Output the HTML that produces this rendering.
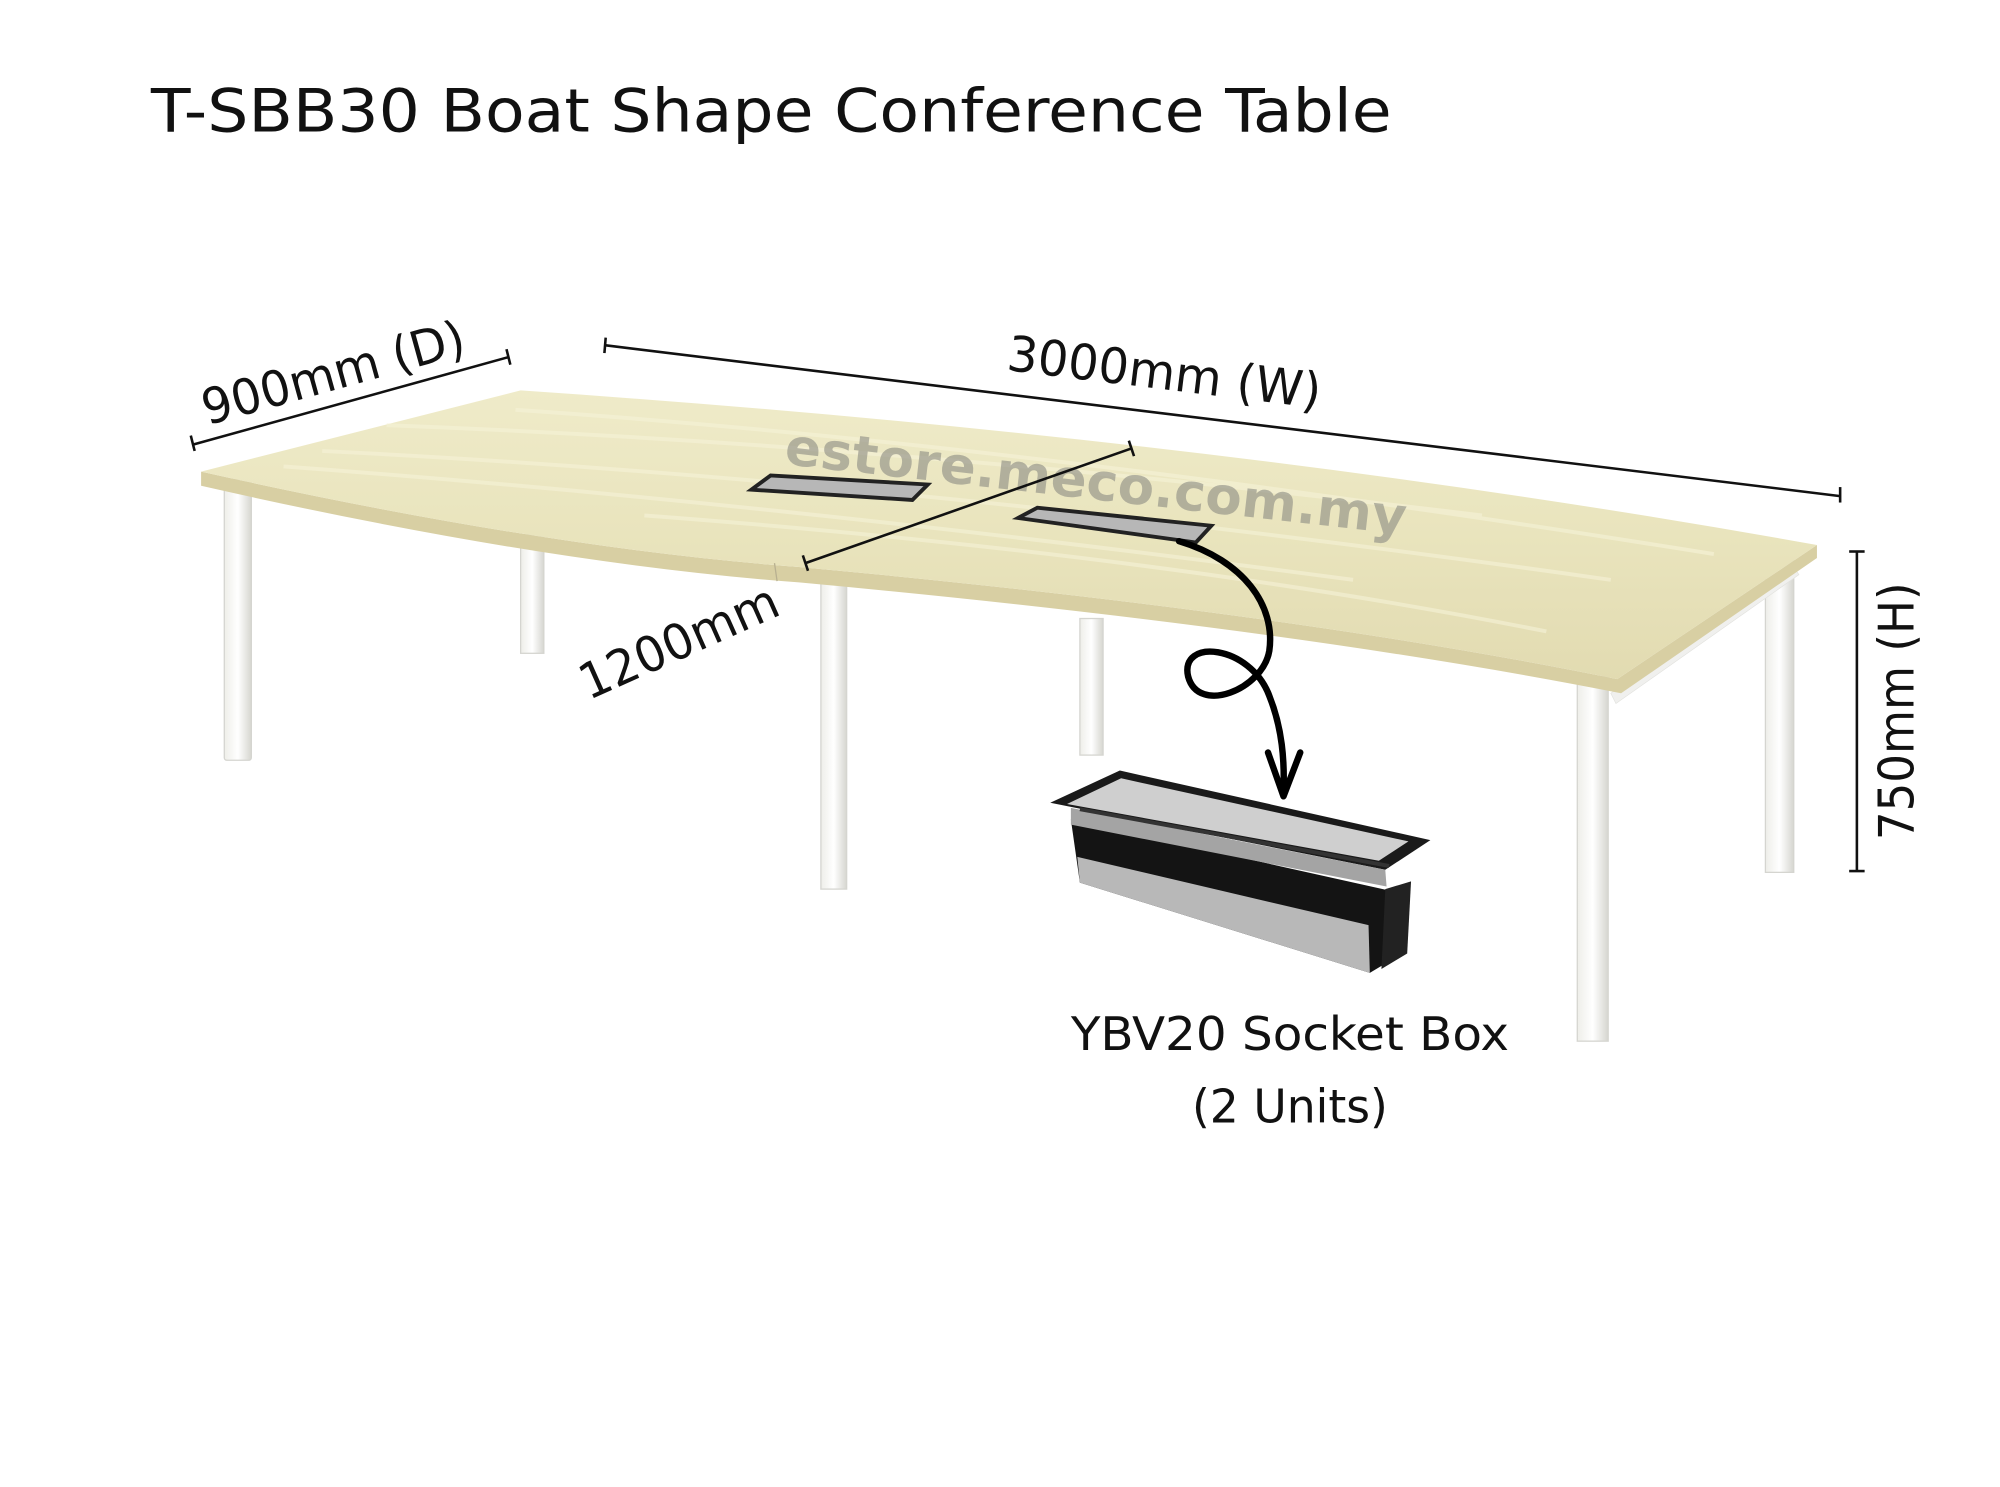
<!DOCTYPE html>
<html><head><meta charset="utf-8"><style>
html,body{margin:0;padding:0;background:#fff;width:2000px;height:1487px;overflow:hidden}
svg{display:block}
text{font-family:"DejaVu Sans Condensed","DejaVu Sans","Liberation Sans",sans-serif}
</style></head><body>
<svg width="2000" height="1487" viewBox="0 0 1552 1154" xmlns="http://www.w3.org/2000/svg">
<defs>
<linearGradient id="wood" x1="0" y1="0" x2="0" y2="1">
<stop offset="0" stop-color="#efebc9"/><stop offset="0.5" stop-color="#e9e4bd"/><stop offset="1" stop-color="#e2dbb1"/>
</linearGradient>
<linearGradient id="leg" x1="0" y1="0" x2="1" y2="0">
<stop offset="0" stop-color="#eeeee9"/><stop offset="0.5" stop-color="#ffffff"/><stop offset="1" stop-color="#d6d6d0"/>
</linearGradient>
</defs>
<text x="117" y="102" font-size="46" fill="#111" textLength="963" lengthAdjust="spacingAndGlyphs">T-SBB30 Boat Shape Conference Table</text>

<!-- legs -->
<rect x="174" y="372" width="21" height="218" fill="url(#leg)" stroke="#d5d5d0" stroke-width="1" rx="2"/>
<rect x="404" y="415" width="18" height="92" fill="url(#leg)" stroke="#d5d5d0" stroke-width="1"/>
<rect x="637" y="448" width="20" height="242" fill="url(#leg)" stroke="#d5d5d0" stroke-width="1"/>
<rect x="838" y="480" width="18" height="106" fill="url(#leg)" stroke="#d5d5d0" stroke-width="1"/>
<rect x="1224" y="525" width="24" height="283" fill="url(#leg)" stroke="#d5d5d0" stroke-width="1"/>
<rect x="1370" y="430" width="22" height="247" fill="url(#leg)" stroke="#d5d5d0" stroke-width="1"/>
<!-- rails -->
<polygon points="1250,538 1392,440 1396,446 1254,546" fill="#f0f0ee" stroke="#e2e2de" stroke-width="0.5"/>

<!-- table top edge -->
<path d="M156 366 Q420 425 620 440 Q1000 475 1255 527 L1410 423 L1410 433 L1258 538 Q1000 487 620 452 Q420 437 156 377 Z" fill="#d8cfa3"/>
<!-- table top -->
<path d="M156 366 L404 303 Q950 340 1410 423 L1255 527 Q1000 475 620 440 Q420 425 156 366 Z" fill="url(#wood)"/>
<g stroke="#f6f3d8" stroke-width="3" fill="none" opacity="0.6">
<path d="M300 330 Q700 345 1150 400"/><path d="M250 350 Q700 372 1250 450"/><path d="M220 362 Q600 390 1050 450"/><path d="M400 318 Q800 345 1330 430"/><path d="M500 400 Q900 430 1200 490"/>
</g>
<line x1="601" y1="437" x2="603" y2="451" stroke="#b8b090" stroke-width="1"/>

<!-- grommets -->
<polygon points="583,380 598,369 720,376 708,388" fill="#b7b7b7" stroke="#222" stroke-width="3"/>
<polygon points="790,402 805,394 940,408 928,421" fill="#b7b7b7" stroke="#222" stroke-width="3"/>

<!-- watermark -->
<text x="608" y="360" font-size="40" font-weight="bold" fill="#8a8a82" fill-opacity="0.6" textLength="485" lengthAdjust="spacingAndGlyphs" transform="rotate(6.5 608 360)" style="font-family:'DejaVu Sans',sans-serif">estore.meco.com.my</text>

<!-- dims -->
<g stroke="#111" stroke-width="2">
<line x1="150" y1="345" x2="395" y2="277"/><line x1="148" y1="338" x2="151" y2="350"/><line x1="393" y1="271" x2="396" y2="283"/>
<line x1="470" y1="268" x2="1428" y2="385"/><line x1="470" y1="262" x2="469" y2="274"/><line x1="1428" y1="378" x2="1428" y2="390"/>
<line x1="625" y1="437" x2="878" y2="348"/><line x1="623" y1="431" x2="627" y2="443"/><line x1="876" y1="342" x2="880" y2="354"/>
<line x1="1441" y1="428" x2="1441" y2="676"/><line x1="1435" y1="428" x2="1447" y2="428"/><line x1="1435" y1="676" x2="1447" y2="676"/>
</g>
<text x="262" y="302" font-size="38" text-anchor="middle" fill="#111" textLength="210" lengthAdjust="spacingAndGlyphs" transform="rotate(-15.5 262 302)">900mm (D)</text>
<text x="902" y="302" font-size="38" text-anchor="middle" fill="#111" textLength="245" lengthAdjust="spacingAndGlyphs" transform="rotate(7 902 302)">3000mm (W)</text>
<text x="532" y="510" font-size="38" text-anchor="middle" fill="#111" textLength="165" lengthAdjust="spacingAndGlyphs" transform="rotate(-24 532 510)">1200mm</text>
<text x="1485" y="552" font-size="38" text-anchor="middle" fill="#111" textLength="200" lengthAdjust="spacingAndGlyphs" transform="rotate(-90 1485 552)">750mm (H)</text>

<!-- curly arrow -->
<path d="M915 420 C965 435 990 470 985 505 C980 535 930 555 922 525 C915 495 970 500 985 540 C995 565 997 590 996 616" fill="none" stroke="#000" stroke-width="5" stroke-linecap="round"/>
<path d="M984 584 L996 618 L1009 584" fill="none" stroke="#000" stroke-width="5" stroke-linecap="round" stroke-linejoin="round"/>

<!-- socket box -->
<polygon points="831,636 1091,694 1088,740 1063,755 838,685" fill="#141414"/>
<polygon points="836,665 1062,718 1063,755 838,685" fill="#b8b8b8"/>
<polygon points="1075,690 1095,684 1092,740 1072,752" fill="#222"/>
<polygon points="815,623 869,598 1110,652 1075,675" fill="#1a1a1a"/>
<polygon points="828,624 870,604 1093,653 1070,668" fill="#cfcfcf"/>
<polygon points="831,627 1075,675 1076,688 831,640" fill="#a4a4a4"/>
<line x1="838" y1="628" x2="1078" y2="672" stroke="#333" stroke-width="3"/>

<text x="1001" y="815" font-size="36" text-anchor="middle" fill="#111" textLength="340" lengthAdjust="spacingAndGlyphs">YBV20 Socket Box</text>
<text x="1001" y="871" font-size="36" text-anchor="middle" fill="#111" textLength="152" lengthAdjust="spacingAndGlyphs">(2 Units)</text>
</svg>
</body></html>
